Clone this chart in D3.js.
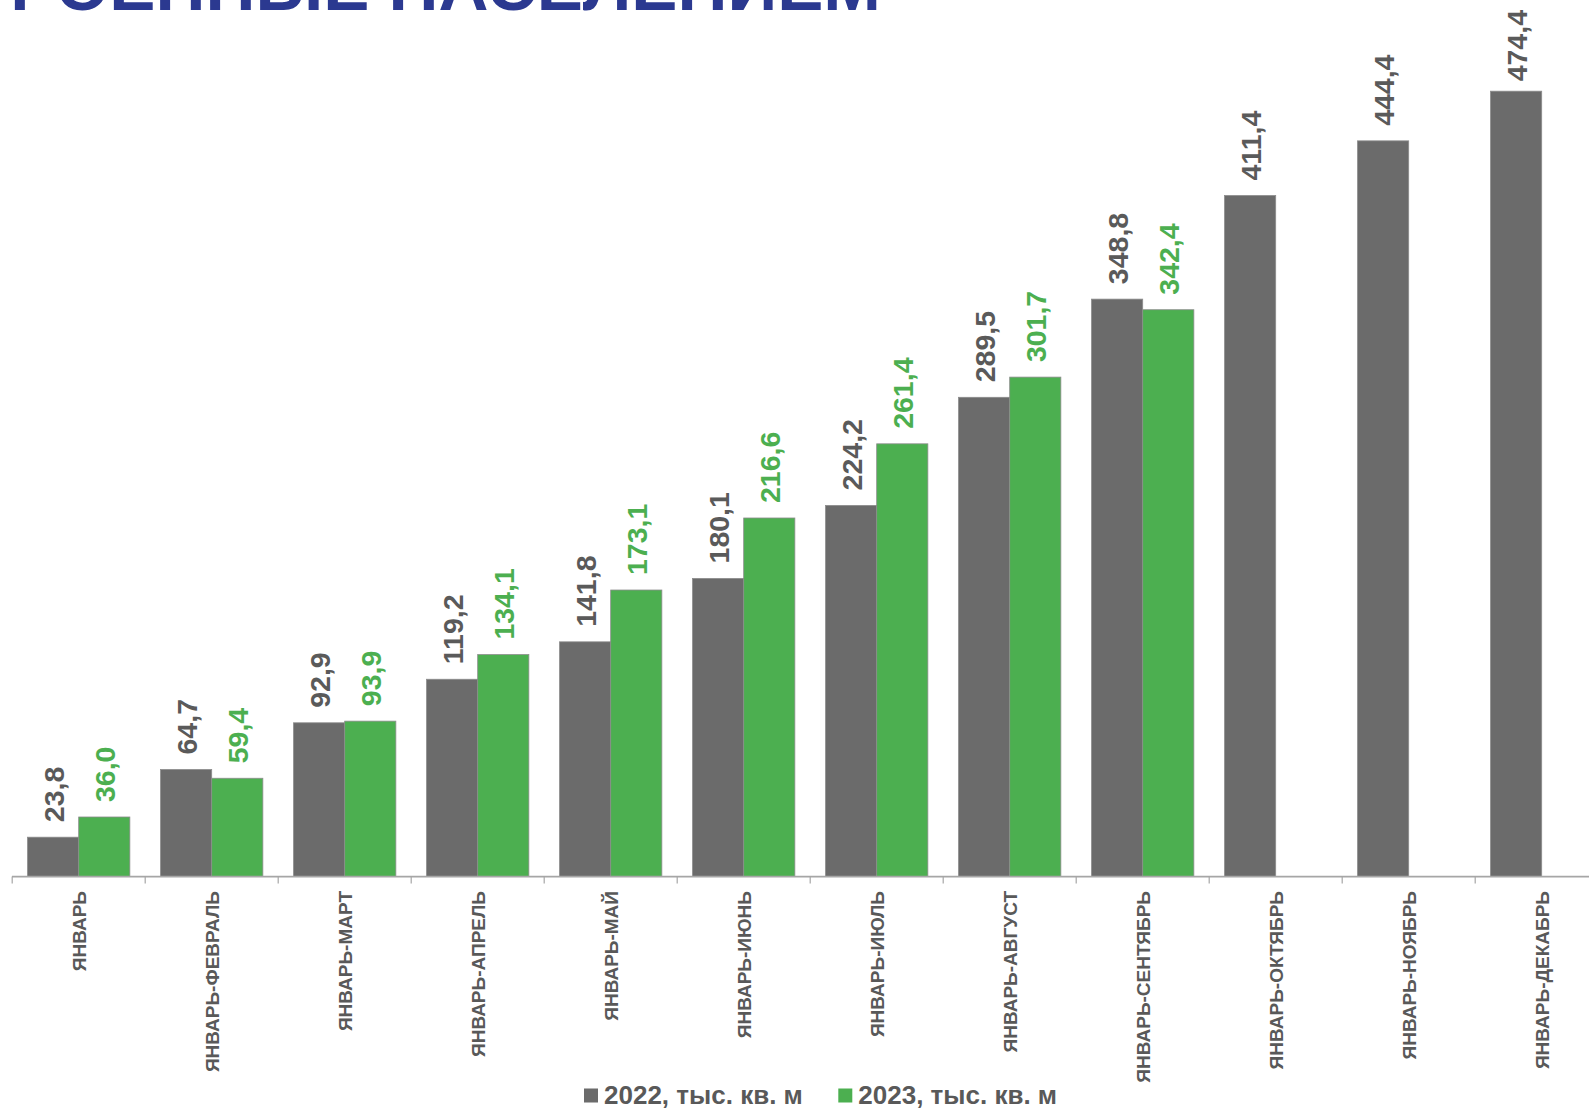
<!DOCTYPE html>
<html><head><meta charset="utf-8">
<script src="https://cdn.jsdelivr.net/npm/d3@7"></script>
<style>body{margin:0;background:#fff;} svg{display:block;font-family:Arial,"Liberation Sans",sans-serif;}</style>
</head><body>
<svg id="c" width="1589" height="1108"></svg>
<script>
const categories = ["ЯНВАРЬ","ЯНВАРЬ-ФЕВРАЛЬ","ЯНВАРЬ-МАРТ","ЯНВАРЬ-АПРЕЛЬ","ЯНВАРЬ-МАЙ","ЯНВАРЬ-ИЮНЬ","ЯНВАРЬ-ИЮЛЬ","ЯНВАРЬ-АВГУСТ","ЯНВАРЬ-СЕНТЯБРЬ","ЯНВАРЬ-ОКТЯБРЬ","ЯНВАРЬ-НОЯБРЬ","ЯНВАРЬ-ДЕКАБРЬ"];
const values2022 = [23.8,64.7,92.9,119.2,141.8,180.1,224.2,289.5,348.8,411.4,444.4,474.4];
const values2023 = [36.0,59.4,93.9,134.1,173.1,216.6,261.4,301.7,342.4,null,null,null];
const seriesNames = ["2022, тыс. кв. м","2023, тыс. кв. м"];
const seriesColors = ["#6b6b6b","#4caf50"];
const labelColors = ["#5a5a5a","#4caf50"];
const titleText = "ПОСТРОЕННЫЕ НАСЕЛЕНИЕМ";
const titleVisible = "РОЕННЫЕ НАСЕЛЕНИЕМ";

const svg = d3.select("#c");
const x0 = d3.scaleBand().domain(categories).range([12.2,1608.2]).paddingInner(0).paddingOuter(0);
const x1 = d3.scaleBand().domain([0,1]).range([0,x0.bandwidth()]).paddingOuter(0.3).paddingInner(0);
const y = d3.scaleLinear().domain([0,500]).range([876.6,876.6-827.8]);

// title (cut off at top): size chosen so the visible part spans ~x 10..881
const probe = svg.append("text").attr("font-size",100).attr("font-weight","bold").text(titleVisible);
const pw = probe.node().getComputedTextLength(); probe.remove();
const tSize = 100*871/pw;
svg.append("text").attr("x",881).attr("y",10).attr("text-anchor","end")
  .attr("font-size",tSize).attr("font-weight","bold").attr("fill","#2b3990").text(titleText);

const series = [values2022, values2023];
const g = svg.append("g");
series.forEach((vals,si)=>{
  const d = categories.map((c,i)=>({c,v:vals[i]})).filter(d=>d.v!=null);
  g.selectAll(null).data(d).enter().append("rect")
    .attr("x",d=>x0(d.c)+x1(si)).attr("width",x1.bandwidth())
    .attr("y",d=>y(d.v)).attr("height",d=>y(0)-y(d.v))
    .attr("fill",seriesColors[si]).attr("stroke","#8c8c8c").attr("stroke-width",0.8);
  g.selectAll(null).data(d).enter().append("text")
    .attr("font-size",28.5).attr("font-weight","bold").attr("fill",labelColors[si])
    .text(d=>d3.format(".1f")(d.v).replace(".",","))
    .attr("transform",function(d){
      const len = this.getComputedTextLength();
      const yy = Math.max(y(d.v)-15, 10+len);
      return `translate(${x0(d.c)+x1(si)+x1.bandwidth()/2+11},${yy}) rotate(-90)`;
    });
});

// axis
const axis = d3.axisBottom(x0).tickSize(7).tickSizeOuter(0).tickFormat("");
const ax = svg.append("g").attr("transform",`translate(0,${y(0)})`).call(axis);
ax.select(".domain").attr("stroke","#a6a6a6").attr("stroke-width",1.6).attr("d","M12,0H1589");
ax.selectAll(".tick line").attr("stroke","#a6a6a6").attr("stroke-width",1.2).attr("transform",`translate(${-x0.bandwidth()/2},0)`);
svg.append("g").selectAll("text").data(categories).enter().append("text")
  .attr("transform",d=>`translate(${x0(d)+x0.bandwidth()/2+7},891) rotate(-90)`)
  .attr("text-anchor","end").attr("font-size",19).attr("font-weight","bold").attr("fill","#595959")
  .text(d=>d);

// legend
const leg = svg.append("g");
const legX = [584,838.3];
seriesNames.forEach((n,i)=>{
  leg.append("rect").attr("x",legX[i]).attr("y",1088.5).attr("width",14).attr("height",14).attr("fill",seriesColors[i]);
  leg.append("text").attr("x",legX[i]+20).attr("y",1103.5).attr("font-size",26).attr("font-weight","bold").attr("fill","#595959").text(n);
});
</script>
</body></html>
